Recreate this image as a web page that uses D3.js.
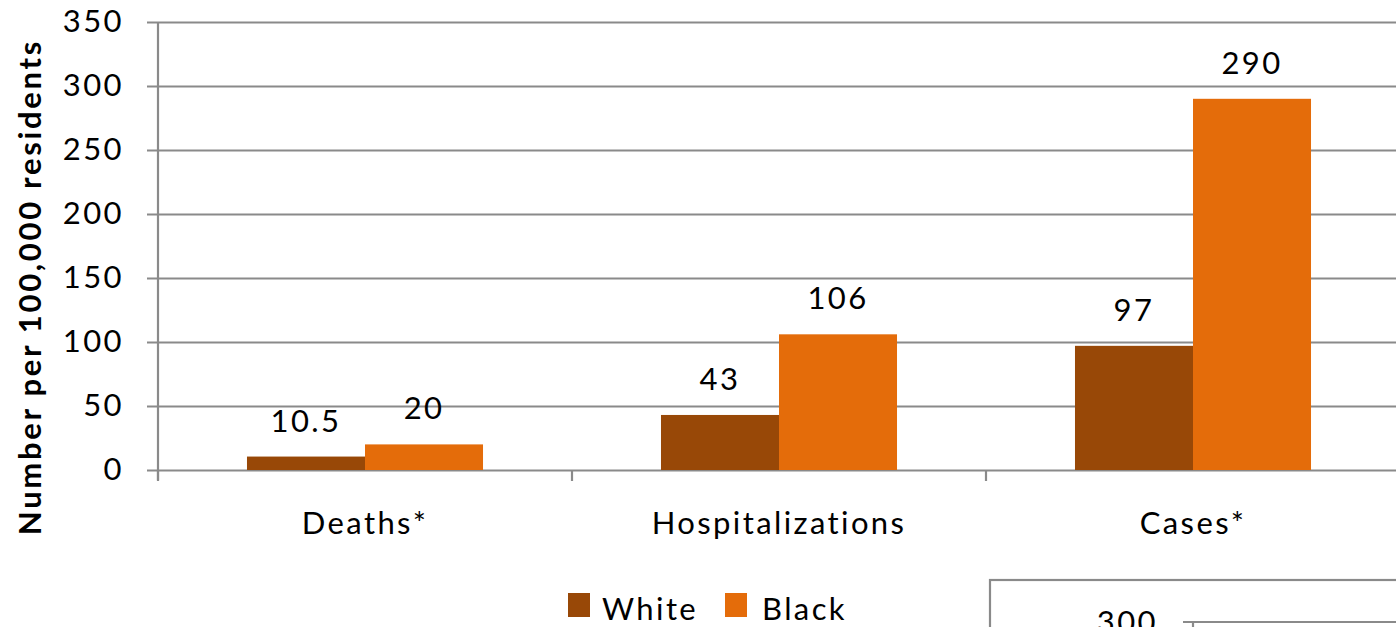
<!DOCTYPE html>
<html>
<head>
<meta charset="utf-8">
<script src="https://cdn.jsdelivr.net/npm/d3@7"></script>
<style>
  html, body { margin: 0; padding: 0; background: #fff; }
  svg { display: block; }
  text { font-family: Lato, "Open Sans", sans-serif; fill: #000; }
</style>
</head>
<body>
<svg id="chart" width="1396" height="627"></svg>
<script>
// Rates per 100,000 residents by race
const categories = ["Deaths*", "Hospitalizations", "Cases*"];
const seriesNames = ["White", "Black"];
const whiteValues = [10.5, 43, 97];
const blackValues = [20, 106, 290];
const valueLabels = [["10.5", "43", "97"], ["20", "106", "290"]];
const yTicks = [0, 50, 100, 150, 200, 250, 300, 350];
const colors = ["#984807", "#E46C0A"];

const svg = d3.select("#chart");
const W = 1396, H = 627;
const FS = 31, LS = 2.4;

const plot = { left: 158, right: 1400, top: 22, bottom: 470 };

const x = d3.scaleBand()
  .domain(categories)
  .range([plot.left, plot.right])
  .paddingInner(0)
  .paddingOuter(0);

const xInner = d3.scaleBand()
  .domain(seriesNames)
  .range([0, x.bandwidth()])
  .paddingInner(0)
  .paddingOuter(0.754);

const y = d3.scaleLinear().domain([0, 350]).range([plot.bottom, plot.top]);

const gridColor = "#8a8a8a";

// horizontal gridlines with small outer ticks
const yAxis = d3.axisLeft(y)
  .tickValues(yTicks)
  .tickSize(-(W - plot.left + 10))
  .tickFormat(d3.format("d"))
  .tickPadding(34);

const gy = svg.append("g")
  .attr("transform", `translate(${plot.left},0)`)
  .call(yAxis);
gy.select(".domain").remove();
gy.selectAll(".tick line")
  .attr("x1", -11)
  .attr("stroke", gridColor)
  .attr("stroke-width", 2.2);
gy.selectAll(".tick text")
  .attr("font-size", FS)
  .attr("letter-spacing", LS)
  .attr("font-family", "Lato, sans-serif")
  .attr("fill", "#000");

// vertical axis line
svg.append("line")
  .attr("x1", plot.left).attr("x2", plot.left)
  .attr("y1", plot.top).attr("y2", plot.bottom + 10)
  .attr("stroke", gridColor).attr("stroke-width", 2.2);

// category separator ticks on the x axis
const boundaries = categories.map(c => x(c));
svg.append("g").selectAll("line")
  .data(boundaries)
  .join("line")
  .attr("x1", d => d).attr("x2", d => d)
  .attr("y1", plot.bottom).attr("y2", plot.bottom + 11)
  .attr("stroke", gridColor).attr("stroke-width", 2.2);

// bars
const rows = categories.map((c, i) => ({
  category: c,
  values: [
    { series: "White", value: whiteValues[i], label: valueLabels[0][i], color: colors[0] },
    { series: "Black", value: blackValues[i], label: valueLabels[1][i], color: colors[1] }
  ]
}));

const groups = svg.append("g").selectAll("g")
  .data(rows)
  .join("g")
  .attr("transform", d => `translate(${x(d.category)},0)`);

groups.selectAll("rect")
  .data(d => d.values)
  .join("rect")
  .attr("x", d => xInner(d.series))
  .attr("width", xInner.bandwidth())
  .attr("y", d => y(d.value))
  .attr("height", d => y(0) - y(d.value))
  .attr("fill", d => d.color);

groups.selectAll("text")
  .data(d => d.values)
  .join("text")
  .attr("x", d => xInner(d.series) + xInner.bandwidth() / 2)
  .attr("y", d => y(d.value) - 25)
  .attr("text-anchor", "middle")
  .attr("font-size", FS)
  .attr("letter-spacing", LS)
  .text(d => d.label);

// category labels
svg.append("g").selectAll("text")
  .data(categories)
  .join("text")
  .attr("x", d => x(d) + x.bandwidth() / 2)
  .attr("y", 534)
  .attr("text-anchor", "middle")
  .attr("font-size", FS)
  .attr("letter-spacing", LS)
  .text(d => d);

// y axis title
svg.append("text")
  .attr("transform", "translate(41,287) rotate(-90)")
  .attr("text-anchor", "middle")
  .attr("font-size", FS)
  .attr("font-weight", "bold")
  .attr("letter-spacing", 2.7)
  .text("Number per 100,000 residents");

// legend
const legend = svg.append("g");
const legendItems = [
  { name: seriesNames[0], color: colors[0], sx: 568, tx: 602 },
  { name: seriesNames[1], color: colors[1], sx: 725, tx: 762 }
];
legend.selectAll("rect")
  .data(legendItems)
  .join("rect")
  .attr("x", d => d.sx).attr("y", 593)
  .attr("width", 22).attr("height", 24)
  .attr("fill", d => d.color);
legend.selectAll("text")
  .data(legendItems)
  .join("text")
  .attr("x", d => d.tx).attr("y", 620)
  .attr("font-size", FS)
  .attr("letter-spacing", LS)
  .text(d => d.name);

// neighbouring chart frame peeking in at the lower right
const inset = svg.append("g");
inset.append("rect")
  .attr("x", 990).attr("y", 580)
  .attr("width", 500).attr("height", 200)
  .attr("fill", "#fff")
  .attr("stroke", gridColor).attr("stroke-width", 2.2);
inset.append("text")
  .attr("x", 1158).attr("y", 633)
  .attr("text-anchor", "end")
  .attr("font-size", FS)
  .attr("letter-spacing", LS)
  .text("300");
inset.append("line")
  .attr("x1", 1183).attr("x2", 1400)
  .attr("y1", 622).attr("y2", 622)
  .attr("stroke", gridColor).attr("stroke-width", 2.2);
inset.append("line")
  .attr("x1", 1193).attr("x2", 1193)
  .attr("y1", 622).attr("y2", 640)
  .attr("stroke", gridColor).attr("stroke-width", 2.2);
</script>
</body>
</html>
